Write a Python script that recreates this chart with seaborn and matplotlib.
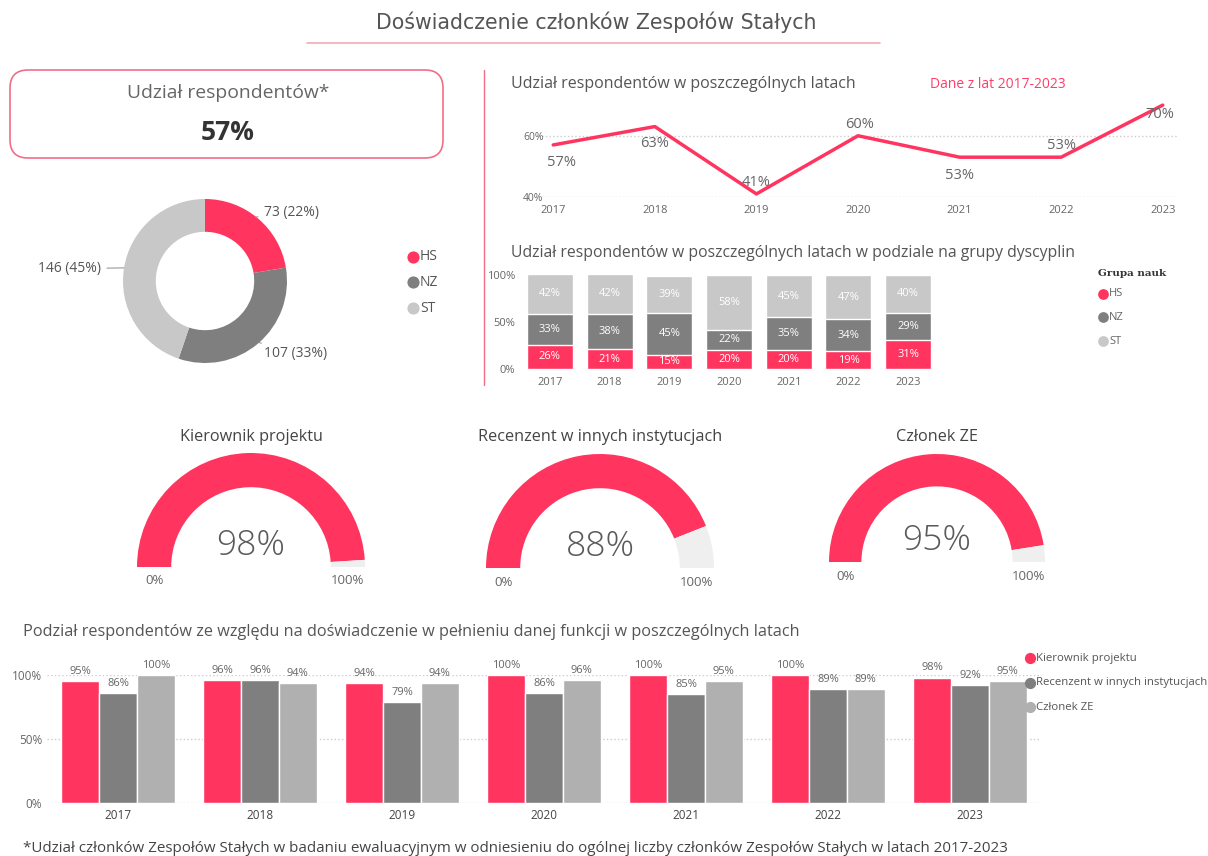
import pandas as pd
import matplotlib.pyplot as plt
from matplotlib.patches import FancyBboxPatch
import seaborn as sns

# dane
years = [2017, 2018, 2019, 2020, 2021, 2022, 2023]
share_by_year = [57, 63, 41, 60, 53, 53, 70]
kpi_share = 57

groups = ['HS', 'NZ', 'ST']
group_counts = [73, 107, 146]
group_pct = [22, 33, 45]

hs_share = [26, 21, 15, 20, 20, 19, 31]
nz_share = [33, 38, 45, 22, 35, 34, 29]
st_share = [42, 42, 39, 58, 45, 47, 40]

roles = ['Kierownik projektu', 'Recenzent w innych instytucjach', 'Członek ZE']
role_total = [98, 88, 95]
kierownik = [95, 96, 94, 100, 100, 100, 98]
recenzent = [86, 96, 79, 86, 85, 89, 92]
czlonek = [100, 94, 94, 96, 95, 89, 95]

footer = ('*Udział członków Zespołów Stałych w badaniu ewaluacyjnym w odniesieniu do ogólnej '
          'liczby członków Zespołów Stałych w latach 2017-2023')

# kolory
PINK = '#ff3560'
DARK = '#7f7f7f'
LIGHT = '#c8c8c8'
LIGHT2 = '#b0b0b0'
TXT = '#666666'

sns.set_theme(style='white')
plt.rcParams['font.family'] = ['Open Sans', 'DejaVu Sans']
plt.rcParams['axes.facecolor'] = 'none'

W, H = 1208, 856
fig = plt.figure(figsize=(W / 100, H / 100), dpi=100)


def add_px(x0, y0, x1, y1):
    return fig.add_axes([x0 / W, 1 - y1 / H, (x1 - x0) / W, (y1 - y0) / H])


def overlay():
    a = fig.add_axes([0, 0, 1, 1])
    a.set_xlim(0, W)
    a.set_ylim(H, 0)
    a.axis('off')
    return a


def clean(ax):
    sns.despine(ax=ax, left=True, bottom=True)
    ax.tick_params(length=0)
    ax.set_xlabel('')
    ax.set_ylabel('')


# warstwa na teksty i ozdobniki (współrzędne w pikselach)
ov = overlay()

ov.text(596, 22, 'Doświadczenie członków Zespołów Stałych', ha='center', va='center',
        fontsize=14.8, color='#555555', family='DejaVu Sans')
ov.plot([307, 880], [43, 43], color='#f7a8b8', lw=1.2)

ov.add_patch(FancyBboxPatch((10, 70), 433, 88, boxstyle='round,pad=0,rounding_size=18',
                            ec='#f26d88', fc='white', lw=1.2))
ov.text(228, 93, 'Udział respondentów*', ha='center', va='center', fontsize=13.9, color=TXT)
ov.text(228, 132, f'{kpi_share}%', ha='center', va='center', fontsize=19,
        weight='bold', color='#333333')

ov.plot([484, 484], [70, 385], color='#f26d88', lw=1)

ov.text(511, 84, 'Udział respondentów w poszczególnych latach', ha='left', va='center',
        fontsize=11.5, color='#555555')
ov.text(930, 84, 'Dane z lat 2017-2023', ha='left', va='center', fontsize=10, color='#ff3d6a')
ov.text(511, 253, 'Udział respondentów w poszczególnych latach w podziale na grupy dyscyplin',
        ha='left', va='center', fontsize=11.3, color='#555555')
ov.text(23, 632, 'Podział respondentów ze względu na doświadczenie w pełnieniu danej funkcji '
        'w poszczególnych latach', ha='left', va='center', fontsize=11.7, color='#555555')
ov.text(23, 848, footer, ha='left', va='center', fontsize=10.9, color='#444444')

# --- donut ---
axd = add_px(123, 199, 287, 363)
axd.pie(group_counts, colors=[PINK, DARK, LIGHT], startangle=90, counterclock=False,
        wedgeprops=dict(width=0.4, linewidth=0))
axd.set_xlim(-1, 1)
axd.set_ylim(-1, 1)
donut_lbl = [((0.62, 0.78), (0.72, 0.83), 'left'),
             ((0.66, -0.75), (0.72, -0.89), 'left'),
             ((-0.99, 0.16), (-1.27, 0.15), 'right')]
for (xy, xyt, ha), n, p in zip(donut_lbl, group_counts, group_pct):
    axd.annotate(f'{n} ({p}%)', xy=xy, xytext=xyt, ha=ha, va='center', fontsize=10,
                 color='#555555', annotation_clip=False,
                 arrowprops=dict(arrowstyle='-', color='#999999', lw=0.8, shrinkA=2, shrinkB=0))

for g, c, y in zip(groups, [PINK, DARK, LIGHT], [257, 282, 308]):
    ov.scatter([413], [y], s=60, color=c)
    ov.text(420, y, g, ha='left', va='center', fontsize=10, color='#555555')

# --- linia ---
axl = add_px(538, 99, 1178, 197)
sns.lineplot(x=years, y=[v / 100 for v in share_by_year], ax=axl, color=PINK, lw=2.5)
axl.set_xlim(2016.85, 2023.15)
axl.set_ylim(0.40, 0.72)
axl.set_xticks(years)
axl.set_xticklabels([str(y) for y in years], fontsize=8, color=TXT)
axl.set_yticks([0.4, 0.6])
axl.set_yticklabels(['40%', '60%'], fontsize=7.5, color=TXT)
axl.grid(axis='y', ls=':', color='#cccccc', lw=1)
clean(axl)
axl.tick_params(axis='x', pad=6)
axl.tick_params(axis='y', pad=-4)
axl.lines[0].set_clip_on(False)
line_off = [(8, 18), (0, 17), (0, -11), (2, -11), (0, 18), (0, -12), (-3, 9)]
for yr, v, (dx, dy) in zip(years, share_by_year, line_off):
    axl.annotate(f'{v}%', (yr, v / 100), xytext=(dx * 0.72, -dy * 0.72),
                 textcoords='offset points', ha='center', va='center', fontsize=10.5,
                 color=TXT, annotation_clip=False)

# --- słupki skumulowane ---
axs = add_px(520, 275, 938, 369)
ylab = [str(y) for y in years]
tot = [h + n + s for h, n, s in zip(hs_share, nz_share, st_share)]
hn = [h + n for h, n in zip(hs_share, nz_share)]
sns.barplot(x=ylab, y=[t / 100 for t in tot], color=LIGHT, width=0.77, ax=axs,
            errorbar=None, saturation=1)
sns.barplot(x=ylab, y=[t / 100 for t in hn], color=DARK, width=0.77, ax=axs,
            errorbar=None, saturation=1)
sns.barplot(x=ylab, y=[t / 100 for t in hs_share], color=PINK, width=0.77, ax=axs,
            errorbar=None, saturation=1)
axs.set_xlim(-0.5, 6.5)
axs.set_ylim(0, 1)
axs.set_yticks([0, 0.5, 1])
axs.set_yticklabels(['0%', '50%', '100%'], fontsize=8, color=TXT)
axs.set_xticks(range(7))
axs.set_xticklabels(ylab, fontsize=8, color=TXT)
clean(axs)
axs.tick_params(axis='x', pad=6)
for i in range(7):
    h, n, s = hs_share[i], nz_share[i], st_share[i]
    for val, mid in [(h, h / 2), (n, h + n / 2), (s, h + n + s / 2)]:
        axs.text(i, mid / 100, f'{val}%', ha='center', va='center', fontsize=8, color='white')

ov.text(1098, 274, 'Grupa nauk', ha='left', va='center', fontsize=7.5, weight='bold',
        color='#333333', family='DejaVu Serif')
for g, c, y in zip(groups, [PINK, DARK, LIGHT], [294, 317, 341]):
    ov.scatter([1103], [y], s=45, color=c)
    ov.text(1109, y, g, ha='left', va='center', fontsize=8, color=TXT)

# --- wskaźniki ---
gauges = [(251, 567, 114), (600, 568, 114), (937, 562, 108)]
for (cx, cy, R), name, v in zip(gauges, roles, role_total):
    axg = add_px(cx - R, cy - R, cx + R, cy)
    axg.pie([v, 100 - v, 100], colors=[PINK, '#efefef', (0, 0, 0, 0)], startangle=180,
            counterclock=False, wedgeprops=dict(width=0.3, linewidth=0))
    axg.set_xlim(-1, 1)
    axg.set_ylim(0, 1)
    ov.text(cx, 437, name, ha='center', va='center', fontsize=11.7, color='#444444')
    ov.text(cx, cy - 21, f'{v}%', ha='center', va='center', fontsize=25.5, color='#5a5a5a',
            weight='light')
    ov.text(cx - R + 0.15 * R, cy + 14, '0%', ha='center', va='center', fontsize=9.5, color=TXT)
    ov.text(cx + R - 0.15 * R, cy + 14, '100%', ha='center', va='center', fontsize=9.5, color=TXT)

# --- słupki pogrupowane ---
df = pd.DataFrame({
    'rok': ylab * 3,
    'funkcja': [roles[0]] * 7 + [roles[1]] * 7 + [roles[2]] * 7,
    'udzial': [v / 100 for v in kierownik + recenzent + czlonek],
})
axb = add_px(47, 675, 1041, 803)
axb.set_axisbelow(True)
axb.grid(axis='y', ls=':', color='#cccccc', lw=1)
sns.barplot(data=df, x='rok', y='udzial', hue='funkcja', palette=[PINK, DARK, LIGHT2],
            width=0.8, ax=axb, errorbar=None, saturation=1, legend=False)
axb.set_xlim(-0.5, 6.5)
axb.set_ylim(0, 1)
axb.set_yticks([0, 0.5, 1])
axb.set_yticklabels(['0%', '50%', '100%'], fontsize=8.5, color=TXT)
axb.set_xticklabels(ylab, fontsize=8.5, color='#444444')
clean(axb)
axb.tick_params(axis='x', pad=4)
for cont, vals in zip(axb.containers, [kierownik, recenzent, czlonek]):
    anns = axb.bar_label(cont, labels=[f'{v}%' for v in vals], padding=3, fontsize=8,
                         color=TXT)
    for a in anns:
        a.set_annotation_clip(False)

# legenda nad słupkami
top = overlay()
for r, c, y in zip(roles, [PINK, DARK, LIGHT2], [658, 683, 707]):
    top.scatter([1030], [y], s=50, color=c)
    top.text(1036, y, r, ha='left', va='center', fontsize=8.2, color='#555555')

fig.savefig('out.png', dpi=100)
